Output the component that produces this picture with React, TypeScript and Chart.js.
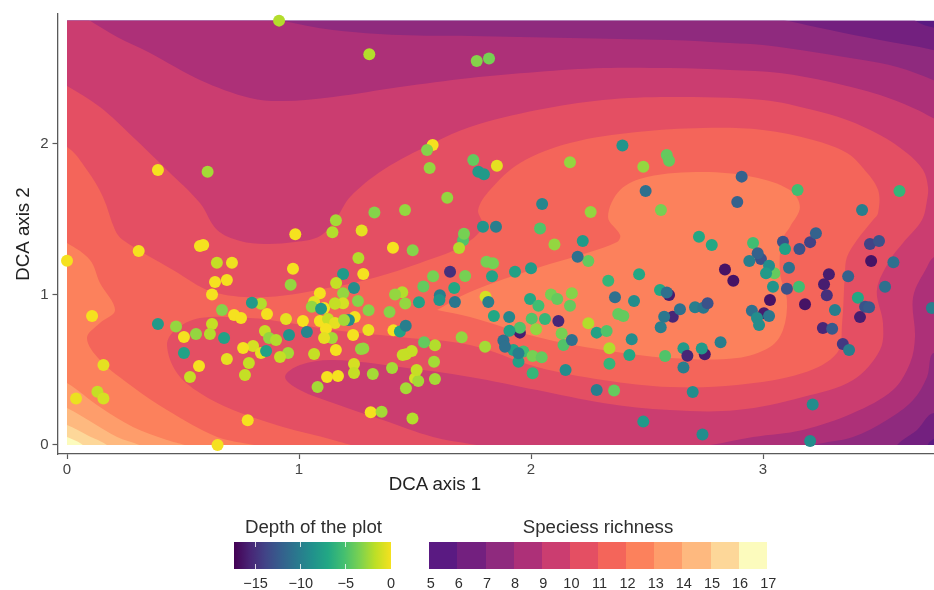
import React, { useEffect, useRef } from "react";
import { Chart, registerables } from "chart.js";

Chart.register(...registerables);

const dcaX = [
  0.914, 1.303, 1.576, 1.552, 1.563, 0.392, 0.606, 1.639, 1.457, 1.325,
  1.159, 1.144, 1.27, 0.984, 1.751, 1.773, 1.797, 1.853, 1.793, 1.849,
  1.707, 1.711, 1.69, 1.405, 1.49, 1.256, 1.277, 1.19, 1.16, 1.237,
  1.19, 1.155, 1.19, 1.254, 1.3, 1.09, 1.065, 1.055, 1.108, 1.095,
  1.24, 1.215, 1.445, 1.414, 1.458, 1.39, 1.517, 1.536, 1.578, 1.651,
  1.716, 1.669, 1.607, 1.605, 1.672, 1.808, 1.836, 1.832, 1.931, 1.804,
  1.816, 1.84, 1.906, 0.646, 0.711, 0.974, 0.964, 0.638, 0.689, 0.625,
  0.836, 0.797, 0.668, 1.155, 0.72, 0.75, 0.862, 0.944, 1.017, 1.09,
  1.125, 1.155, 1.194, 0.47, 0.625, 0.556, 0.616, 0.504, 0.677, 0.853,
  0.957, 1.034, 1.116, 1.142, 1.108, 1.233, 0.871, 0.901, 0.802, 0.759,
  0.836, 0.858, 0.504, 0.689, 0.953, 0.918, 1.065, 1.159, 1.267, 0.569,
  0.784, 0.53, 0.767, 1.237, 1.237, 1.121, 1.168, 0, 0.573, 0.587,
  0.309, 0.108, 0.157, 0.039, 0.131, 0.157, 0.392, 0.779, 0.649, 1.08,
  1.318, 1.277, 1.309, 1.356, 1.489, 1.401, 1.461, 1.5, 1.514, 1.507,
  1.586, 1.582, 1.586, 1.539, 1.486, 1.461, 1.447, 1.701, 1.407, 1.435,
  1.46, 1.299, 2.101, 2.223, 2.247, 2.201, 2.0, 2.333, 2.466, 2.362,
  2.444, 2.556, 2.595, 2.585, 2.836, 2.872, 1.996, 2.032, 2.086, 2.113,
  2.176, 2.168, 2.003, 2.06, 2.118, 1.952, 1.952, 1.907, 2.022, 2.132,
  2.14, 2.176, 2.247, 2.283, 2.326, 2.376, 2.398, 2.434, 2.338, 2.424,
  2.338, 1.802, 1.881, 1.924, 1.888, 1.946, 1.967, 1.946, 2.007, 2.046,
  2.149, 2.007, 2.283, 2.358, 2.697, 2.484, 2.739, 3.214, 3.203, 2.578,
  2.657, 2.674, 2.749, 2.736, 2.657, 2.817, 2.559, 2.611, 2.574, 2.642,
  2.707, 2.743, 2.761, 2.889, 2.957, 3.086, 3.095, 3.157, 3.203, 3.228,
  2.991, 2.977, 2.941, 3.049, 3.026, 3.013, 3.043, 3.112, 3.103, 3.155,
  3.03, 3.181, 3.284, 3.263, 3.275, 3.367, 3.31, 3.258, 3.298, 3.004,
  2.952, 2.974, 3.026, 2.983, 3.344, 3.371, 3.427, 3.461, 3.5, 3.466,
  3.562, 3.526, 3.409, 3.44, 3.457, 3.418, 3.728, 2.394, 2.168, 2.585,
  2.595, 2.484, 2.908, 2.494, 3.149, 3.588, 2.56, 2.257, 2.048, 2.039,
  1.819, 1.766, 2.724, 2.779,
];

const dcaY = [
  2.818, 2.594, 1.992, 1.959, 1.839, 1.826, 1.815, 1.642, 1.56, 1.544,
  1.492, 1.412, 1.425, 1.399, 1.892, 1.815, 1.798, 1.854, 1.449, 1.449,
  1.36, 1.403, 1.308, 1.309, 1.293, 1.241, 1.135, 1.135, 1.075, 1.042,
  1.007, 0.941, 0.941, 0.956, 0.894, 1.007, 0.95, 0.918, 0.909, 0.905,
  0.85, 0.83, 1.014, 1.0, 0.94, 0.883, 0.947, 1.053, 1.12, 1.151,
  1.122, 1.042, 0.994, 0.962, 0.949, 1.216, 1.207, 1.121, 1.15, 0.984,
  0.949, 0.857, 0.85, 1.21, 1.21, 1.17, 1.064, 1.082, 1.096, 1.0,
  0.938, 0.945, 0.896, 0.937, 0.863, 0.843, 0.87, 0.837, 0.823, 0.823,
  0.837, 0.81, 0.83, 0.786, 0.803, 0.737, 0.737, 0.717, 0.71, 0.757,
  0.73, 0.75, 0.77, 0.71, 0.71, 0.73, 0.71, 0.697, 0.657, 0.644,
  0.61, 0.624, 0.611, 0.571, 0.611, 0.584, 0.604, 0.631, 0.638, 0.524,
  0.544, 0.452, 0.465, 0.538, 0.478, 0.452, 0.458, 1.224, 1.321, 1.328,
  1.288, 0.857, 0.531, 0.308, 0.354, 0.308, 0.803, 0.164, 0, 0.385,
  0.471, 0.64, 0.217, 0.221, 0.175, 0.511, 0.376, 0.443, 0.425, 0.498,
  0.438, 0.553, 0.662, 0.682, 0.624, 0.602, 0.598, 0.715, 0.761, 0.753,
  0.792, 0.764, 1.332, 1.355, 1.222, 1.25, 1.173, 1.091, 1.133, 0.981,
  0.956, 1.029, 0.996, 1.012, 1.166, 1.091, 0.969, 0.925, 1.0, 0.969,
  1.007, 0.925, 0.839, 0.837, 0.823, 0.746, 0.779, 0.759, 0.768, 0.741,
  0.664, 0.697, 0.808, 0.746, 0.757, 0.87, 0.857, 0.702, 0.642, 0.598,
  0.54, 0.653, 0.693, 0.631, 0.653, 0.553, 0.62, 0.609, 0.591, 0.582,
  0.498, 0.476, 0.365, 0.361, 0.352, 0.155, 0.069, 0.268, 0.027, 0.591,
  0.642, 0.593, 0.602, 0.64, 0.514, 0.682, 0.781, 0.852, 0.852, 0.901,
  0.914, 0.912, 0.941, 1.614, 1.342, 1.349, 1.302, 1.301, 1.347, 1.406,
  1.235, 1.273, 1.222, 1.14, 1.19, 1.14, 1.05, 1.177, 1.037, 1.05,
  0.963, 0.935, 1.134, 1.067, 0.995, 1.12, 0.896, 0.777, 0.771, 0.875,
  0.892, 0.843, 0.857, 0.797, 0.671, 0.631, 1.56, 1.334, 1.355, 1.222,
  1.214, 1.05, 0.977, 0.918, 0.915, 0.849, 0.91, 1.988, 1.877, 1.926,
  1.888, 1.848, 1.782, 1.687, 1.693, 1.687, 1.56, 1.547, 1.6, 1.437,
  2.567, 2.55, 1.383, 1.328,
];

const depth = [
  -2, -2, 0, -3.2, -2.8, 0, -2.4, -2.8, -2.8, -3.2,
  -2.4, -2, -0.5, 0, -4.2, -8, -8, -0.5, -8.5, -10,
  -4.8, -3.6, -2, 0, -3.2, -2, 0, -8, -1.5, -9,
  -2.8, -2, -1, -3.2, -3.2, 0, -0.5, -2.8, 0, -8,
  0, -9, -2, -2.8, -2.8, -3.2, -7.5, -4.2, -3.6, -15,
  -3.6, -7, -10, -8.5, -10.5, -3.6, -3.6, -7.5, -7.5, -1,
  -10, -7, -9.5, -1.5, -0.2, 0, -2.8, 0, 0, 0,
  -2, -8, -3.2, -1.5, 0, 0, 0, -0.5, 0, 0,
  -1.5, -0.5, -2.4, -2.8, -1.5, -2.8, -2, 0, -7.5, -1.5,
  -8.5, -9.5, 0, -2.4, -0.5, 0, -2.8, -2, -1, 0,
  -0.5, -7.5, -7.5, -0.5, -2.4, -1.5, -1.5, 0, -2.8, 0,
  -1.5, -1.5, -1.5, -1, -1.5, 0, 0, 0, 0, 0,
  0, 0, -0.5, -0.3, -1.5, -1, -8, 0, 0, -2.4,
  -2.4, -2.8, 0, -2.4, -2, -2.4, -2.4, -1, -2.4, -1.5,
  -2.4, -2.4, -2, -4.2, -1.5, -1.5, -1.5, -2.8, 0, -7.5,
  -10, -0.3, -2.8, -8, -4.2, -11, -8, -6, -7, -11,
  -9, -7, -16, -11, -16.5, -16.5, -7, -5.4, -3.6, -4.2,
  -3.2, -4.2, -4.8, -6, -15.5, -16, -4.8, -7.5, -2.8, -3.6,
  -4.8, -11, -2, -7.5, -4.8, -4.2, -4.2, -9, -2, -7,
  -6, -2.4, -11, -7.5, -11, -7.5, -5.4, -10, -3.6, -4.2,
  -9, -6, -10, -4.2, -9, -8, -9, -9, -9, -4.8,
  -8, -15.5, -16, -8, -10, -10, -10, -15.5, -10.5, -11,
  -10, -10.5, -13, -12, -5.4, -13, -7.5, -13, -14, -12,
  -13, -12, -10, -4.2, -9, -8, -8.5, -11, -13, -5.4,
  -16.5, -16.5, -16, -16, -15, -12, -10, -15.5, -12.5, -16,
  -11, -9, -10.5, -9, -14.5, -10, -10, -14, -13, -16.5,
  -11, -11, -7, -13, -12.5, -16, -10, -8.5, -2.8, -4.2,
  -4.2, -2.8, -12, -11, -5.4, -6, -3.6, -2.8, -9.5, -4.8,
  -3.6, -3.2, -7, -7,
];

const xTicks = [0, 1, 2, 3];
const yTicks = [0, 1, 2];
const depthTicks = [-15, -10, -5, 0];
const richnessTicks = [5, 6, 7, 8, 9, 10, 11, 12, 13, 14, 15, 16, 17];
const depthMin = -17.4;
const fieldX = [0, 3.737];
const fieldY = [0, 2.818];

const viridis = ["#440154", "#482475", "#414487", "#355f8d", "#2a788e", "#21918c", "#22a884", "#44bf70", "#7ad151", "#bddf26", "#f5e11f"];
const richnessColors = ["#5a1a82", "#73207f", "#8f2a7e", "#ad3078", "#cb3d70", "#e44f63", "#f4655a", "#fc815c", "#fe9d6b", "#feb97f", "#fdd799", "#fcfbbd"];

const rich5 = [[-0.5, -0.5], [4.3, -0.5], [4.3, 3.3], [-0.5, 3.3]];
const rich6 = [[-0.2, 3.0], [3.6, 2.95], [3.655, 2.82], [3.76, 2.76], [3.9, 2.7], [3.9, 0.1], [3.75, 0.05], [3.71, 0], [3.69, -0.2], [-0.2, -0.2]];
const rich7 = [[-0.2, 3.0], [2.9, 2.88], [3.103, 2.818], [3.289, 2.756], [3.504, 2.689], [3.733, 2.623], [3.9, 2.55], [3.9, 0.13], [3.737, 0.212], [3.664, 0.1], [3.578, 0], [3.5, -0.2], [-0.2, -0.2]];
const rich8 = [[-0.2, 3.0], [0.75, 2.9], [0.931, 2.817], [1.147, 2.756], [1.435, 2.722], [1.737, 2.716], [2.168, 2.703], [2.599, 2.689], [2.858, 2.669], [3.0, 2.656], [3.216, 2.61], [3.431, 2.556], [3.578, 2.51], [3.733, 2.424], [3.9, 2.3], [3.9, 0.5], [3.737, 0.611], [3.707, 0.452], [3.647, 0.299], [3.534, 0.166], [3.388, 0.053], [3.216, 0], [3.0, -0.1], [-0.2, -0.2]];
const rich9 = [[-0.2, 3.0], [0.0, 2.9], [0.099, 2.817], [0.216, 2.709], [0.358, 2.603], [0.573, 2.424], [0.789, 2.304], [0.931, 2.284], [1.147, 2.311], [1.435, 2.377], [1.737, 2.437], [2.026, 2.477], [2.31, 2.503], [2.599, 2.503], [2.858, 2.49], [3.073, 2.47], [3.289, 2.41], [3.504, 2.324], [3.647, 2.238], [3.733, 2.171], [3.9, 2.03], [3.9, 1.35], [3.737, 1.248], [3.707, 1.182], [3.647, 0.983], [3.655, 0.717], [3.634, 0.544], [3.56, 0.365], [3.388, 0.212], [3.172, 0.1], [2.957, 0.053], [2.772, 0], [2.51, -0.05], [-0.2, -0.2]];
const rich10 = [[-0.2, 2.55], [0, 2.384], [0.142, 2.244], [0.284, 2.045], [0.431, 1.826], [0.573, 1.607], [0.647, 1.428], [0.746, 1.355], [0.853, 1.335], [0.983, 1.348], [1.091, 1.388], [1.164, 1.514], [1.22, 1.647], [1.362, 1.826], [1.578, 2.005], [1.737, 2.112], [2.026, 2.224], [2.31, 2.291], [2.599, 2.311], [3.0, 2.291], [3.216, 2.224], [3.362, 2.158], [3.504, 2.058], [3.62, 1.939], [3.69, 1.826], [3.711, 1.713], [3.707, 1.627], [3.685, 1.494], [3.603, 1.341], [3.547, 1.228], [3.491, 1.029], [3.517, 0.81], [3.504, 0.631], [3.388, 0.432], [3.172, 0.319], [2.888, 0.232], [2.599, 0.232], [2.31, 0.279], [2.026, 0.365], [1.737, 0.452], [1.435, 0.518], [1.147, 0.564], [1.004, 0.531], [0.94, 0.452], [1.004, 0.365], [1.147, 0.279], [1.362, 0.166], [1.578, 0.053], [1.737, 0.007], [1.95, -0.05], [-0.2, -0.2]];
const rich11 = [[-0.2, 2.1], [0, 1.979], [0.086, 1.826], [0.155, 1.647], [0.207, 1.428], [0.241, 1.361], [0.457, 1.162], [0.629, 1.016], [0.862, 0.983], [1.147, 1.049], [1.336, 1.116], [1.522, 1.209], [1.694, 1.315], [1.793, 1.448], [1.772, 1.56], [1.823, 1.693], [1.953, 1.873], [2.168, 2.005], [2.457, 2.078], [2.741, 2.105], [3.0, 2.092], [3.216, 2.025], [3.362, 1.939], [3.431, 1.839], [3.496, 1.693], [3.496, 1.541], [3.474, 1.494], [3.405, 1.361], [3.362, 1.248], [3.353, 1.142], [3.341, 0.81], [3.319, 0.611], [3.172, 0.478], [2.888, 0.398], [2.599, 0.385], [2.31, 0.432], [2.026, 0.518], [1.737, 0.664], [1.435, 0.717], [1.147, 0.764], [0.931, 0.817], [0.789, 0.843], [0.573, 0.843], [0.466, 0.764], [0.431, 0.664], [0.474, 0.478], [0.573, 0.345], [0.716, 0.232], [0.931, 0.12], [1.147, 0.033], [1.263, -0.033], [-0.2, -0.2]];
const rich12Left = [[-0.2, 1.5], [0, 1.341], [0.099, 1.228], [0.142, 1.076], [0.207, 0.896], [0.142, 0.81], [0.086, 0.71], [0.142, 0.564], [0.284, 0.385], [0.431, 0.232], [0.647, 0.053], [0.832, -0.02], [-0.2, -0.2]];
const rich12Centre = [[1.595, 0.896], [1.737, 1.016], [2.026, 1.175], [2.241, 1.275], [2.371, 1.348], [2.384, 1.394], [2.332, 1.514], [2.384, 1.693], [2.5, 1.78], [2.741, 1.813], [2.957, 1.78], [3.116, 1.693], [3.159, 1.58], [3.116, 1.448], [3.082, 1.361], [3.073, 1.142], [3.103, 0.963], [3.086, 0.764], [3.03, 0.651], [2.888, 0.578], [2.599, 0.578], [2.31, 0.631], [2.026, 0.717], [1.737, 0.85], [1.595, 0.896]];
const rich13 = [[-0.1, 0.48], [0, 0.412], [0.142, 0.252], [0.284, 0.12], [0.431, 0.033], [0.517, -0.013], [-0.1, -0.1]];
const rich14 = [[-0.1, 0.3], [0, 0.246], [0.112, 0.146], [0.216, 0.053], [0.315, -0.013], [-0.1, -0.1]];
const rich15 = [[-0.1, 0.18], [0, 0.133], [0.086, 0.066], [0.172, -0.013], [-0.1, -0.1]];
const rich16 = [[-0.1, 0.09], [0, 0.053], [0.069, -0.013], [-0.1, -0.1]];

// Painted bottom to top; the colour index is the bin's position in richnessColors.
const bands: [number[][], number][] = [
  [rich5, 0], [rich6, 1], [rich7, 2], [rich8, 3], [rich9, 4], [rich10, 5], [rich11, 6],
  [rich12Left, 7], [rich12Centre, 7], [rich13, 8], [rich14, 9], [rich15, 10], [rich16, 11],
];

const hexToRgb = (h: string) => [1, 3, 5].map((i) => parseInt(h.slice(i, i + 2), 16));

function depthColor(d: number) {
  const t = Math.min(1, Math.max(0, (d - depthMin) / -depthMin)) * (viridis.length - 1);
  const i = Math.min(viridis.length - 2, Math.floor(t));
  const a = hexToRgb(viridis[i]);
  const b = hexToRgb(viridis[i + 1]);
  const c = a.map((v, k) => Math.round(v + (b[k] - v) * (t - i)));
  return `rgb(${c[0]},${c[1]},${c[2]})`;
}

const contourFill = {
  id: "contourFill",
  beforeDatasetDraw(chart: any, args: any) {
    const ds = chart.data.datasets[args.index];
    if (!ds.bandColor) return;
    const { ctx, chartArea, scales } = chart;
    const line = args.meta.dataset;
    line.updateControlPoints(chartArea, "x");
    const left = scales.x.getPixelForValue(fieldX[0]);
    const right = scales.x.getPixelForValue(fieldX[1]);
    const top = scales.y.getPixelForValue(fieldY[1]);
    const bottom = scales.y.getPixelForValue(fieldY[0]);
    ctx.save();
    ctx.beginPath();
    ctx.rect(left, top, right - left, bottom - top);
    ctx.clip();
    ctx.beginPath();
    line.path(ctx);
    ctx.closePath();
    ctx.fillStyle = ds.bandColor;
    ctx.fill();
    ctx.restore();
  },
};

const axisInk = "#5a5a5a";
const tickInk = "#444444";
const sans = '"Liberation Sans", Arial, sans-serif';

const abs = (s: React.CSSProperties): React.CSSProperties => ({ position: "absolute", ...s });

export default function App() {
  const ref = useRef<HTMLCanvasElement>(null);

  useEffect(() => {
    const pointData = dcaX.map((x, i) => ({ x, y: dcaY[i] }));
    const bandSets = [...bands].reverse().map(([poly, c]) => ({
      data: poly.map(([x, y]) => ({ x, y })),
      showLine: true,
      tension: 0.35,
      capBezierPoints: false,
      borderWidth: 0,
      pointRadius: 0,
      pointHoverRadius: 0,
      fill: false,
      bandColor: richnessColors[c],
    }));
    const chart = new Chart(ref.current as HTMLCanvasElement, {
      type: "scatter",
      data: {
        datasets: [
          {
            data: pointData,
            pointRadius: 6,
            pointHoverRadius: 6,
            pointBorderWidth: 0,
            pointBackgroundColor: depth.map(depthColor),
            clip: false,
          } as any,
          ...bandSets,
        ],
      },
      options: {
        animation: false,
        responsive: false,
        devicePixelRatio: 1,
        events: [],
        layout: { padding: { top: 14, right: 0, bottom: 96, left: 0 } },
        plugins: { legend: { display: false }, tooltip: { enabled: false }, title: { display: false } },
        scales: {
          x: {
            type: "linear",
            min: -0.041,
            max: 3.737,
            afterBuildTicks: (s: any) => { s.ticks = xTicks.map((value) => ({ value })); },
            afterFit: (s: any) => { s.height = 40; },
            border: { display: true, color: axisInk, width: 1.3 },
            grid: { display: true, drawOnChartArea: false, drawTicks: true, tickLength: 5, tickColor: axisInk, tickWidth: 1.2 },
            ticks: { color: tickInk, font: { family: sans, size: 15 }, padding: 2, maxRotation: 0, callback: (v: any) => String(v) },
            title: { display: false },
          },
          y: {
            type: "linear",
            min: -0.06,
            max: 2.862,
            afterBuildTicks: (s: any) => { s.ticks = yTicks.map((value) => ({ value })); },
            afterFit: (s: any) => { s.width = 57.5; },
            border: { display: true, color: axisInk, width: 1.3 },
            grid: { display: true, drawOnChartArea: false, drawTicks: true, tickLength: 5, tickColor: axisInk, tickWidth: 1.2 },
            ticks: { color: tickInk, font: { family: sans, size: 15 }, padding: 4, callback: (v: any) => String(v) },
            title: { display: true, text: "DCA axis 2", color: "#222222", font: { family: sans, size: 18.7 }, padding: { top: 13, bottom: 0 } },
          },
        },
      },
      plugins: [contourFill],
    } as any);
    return () => chart.destroy();
  }, []);

  const barTop = 542;
  const barHeight = 27;
  const depthLeft = 234;
  const depthRight = 391;
  const richLeft = 429.3;
  const richStep = 28.12;
  const depthPx = (d: number) => depthRight + (d / -depthMin) * (depthRight - depthLeft);
  const label: React.CSSProperties = { fontFamily: sans, color: "#2e2e2e", fontSize: 14.5, lineHeight: "16px", textAlign: "center", width: 40 };
  const legendTitle: React.CSSProperties = { fontFamily: sans, color: "#2e2e2e", fontSize: 18.7, lineHeight: "22px", textAlign: "center", whiteSpace: "nowrap" };

  return (
    <div style={abs({ left: 0, top: 0, width: 934, height: 590, background: "#fff", overflow: "hidden", filter: "blur(0.5px)" })}>
      <canvas ref={ref} width={940} height={590} style={{ display: "block", width: 940, height: 590 }} />
      <div style={abs({ ...legendTitle, left: 335, top: 473, width: 200, color: "#222222" })}>DCA axis 1</div>

      <div style={abs({ ...legendTitle, left: depthLeft - 19, top: 516, width: 197 })}>Depth of the plot</div>
      <div
        style={abs({
          left: depthLeft,
          top: barTop,
          width: depthRight - depthLeft,
          height: barHeight,
          background: `linear-gradient(to right, ${viridis.join(",")})`,
        })}
      />
      {depthTicks.map((d) => (
        <React.Fragment key={d}>
          {d !== 0 && <div style={abs({ left: depthPx(d) - 0.5, top: barTop, width: 1, height: 5, background: "rgba(255,255,255,.8)" })} />}
          {d !== 0 && <div style={abs({ left: depthPx(d) - 0.5, top: barTop + barHeight - 5, width: 1, height: 5, background: "rgba(255,255,255,.8)" })} />}
          <div style={abs({ ...label, left: depthPx(d) - 20, top: 575 })}>{d < 0 ? `\u2212${-d}` : d}</div>
        </React.Fragment>
      ))}

      <div style={abs({ ...legendTitle, left: 498, top: 516, width: 200 })}>Speciess richness</div>
      {richnessColors.map((c, i) => (
        <div key={c} style={abs({ left: richLeft + i * richStep, top: barTop, width: richStep + 0.5, height: barHeight, background: c })} />
      ))}
      {richnessTicks.map((t, i) => (
        <div key={t} style={abs({ ...label, left: richLeft + i * richStep - 20 + 1.5, top: 575 })}>{t}</div>
      ))}
    </div>
  );
}
